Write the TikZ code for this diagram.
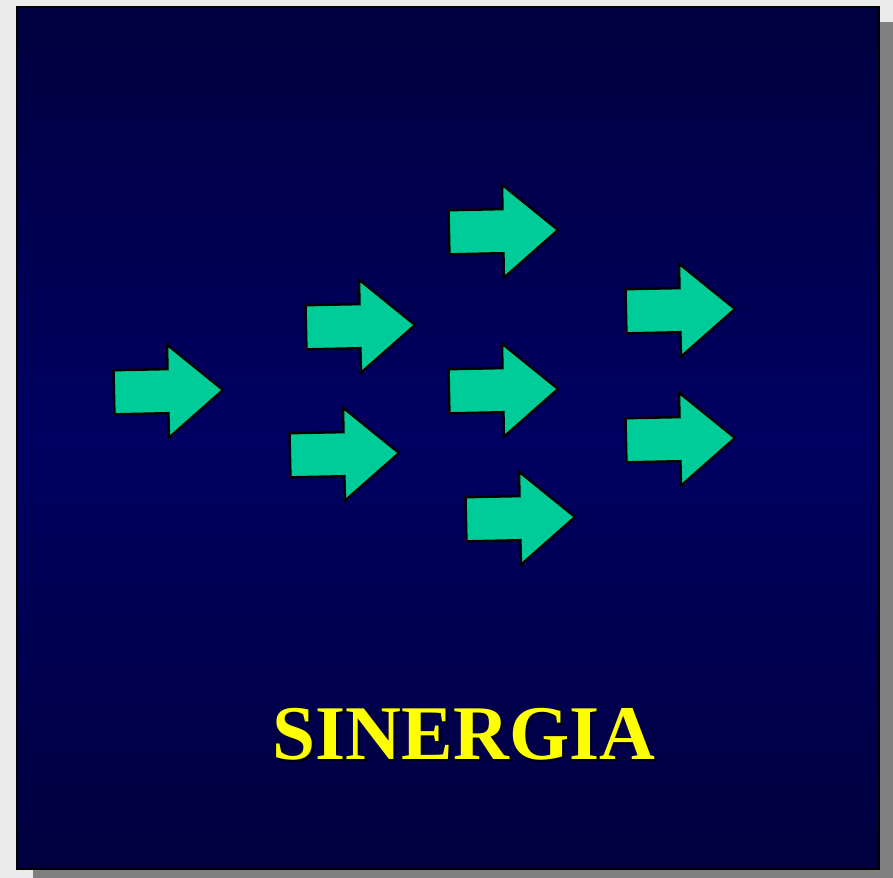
\documentclass[tikz,border=0pt]{standalone}
\usepackage{fontspec}
\setmainfont{Liberation Serif}
\usetikzlibrary{calc}
\definecolor{pagegray}{RGB}{235,235,235}
\definecolor{shadowgray}{RGB}{128,128,128}
\definecolor{navytop}{RGB}{0,0,62}
\definecolor{navymid}{RGB}{0,0,98}
\definecolor{arrowgreen}{RGB}{0,204,153}
\definecolor{titleyellow}{RGB}{255,255,0}
\tikzset{
  blockarrow/.style={fill=arrowgreen, draw=black, line width=2pt, line join=miter},
  titletext/.style={font=\bfseries\fontsize{66}{66}\selectfont, inner sep=0pt}
}
\newcommand\shadowed[1]{\makebox[0pt][l]{\hspace{1.4pt}\raisebox{-1.4pt}{\textcolor{black}{#1}}}#1}

\begin{document}
\begin{tikzpicture}[x=0.03cm,y=-0.03cm]
  \useasboundingbox (0,0) rectangle (893,878);
  \fill[pagegray] (0,0) rectangle (893,878);
  \fill[shadowgray] (33,22) rectangle (893,878);
  \shade[top color=navytop, bottom color=navytop, middle color=navymid] (17,7) rectangle (879,869);
  \draw[line width=1.5pt] (17,7) rectangle (879,869);

  \coordinate (t1) at (223,390);
  \coordinate (t2) at (415,325);
  \coordinate (t3) at (399,453);
  \coordinate (t4) at (558,230);
  \coordinate (t5) at (558,389);
  \coordinate (t6) at (575,517);
  \coordinate (t7) at (735,309);
  \coordinate (t8) at (735,438);

  \foreach \t in {t1,t2,t3,t4,t5,t6,t7,t8}
    \draw[blockarrow, shift={(\t)}, rotate=1.2] (0,0) -- (-55,-46.5) -- (-55,-22) -- (-109,-22) -- (-109,22) -- (-55,22) -- (-55,46.5) -- cycle;

  \node[titletext, text=titleyellow] (title) at (464,735) {\shadowed{SINERGIA}};
\end{tikzpicture}
\end{document}
